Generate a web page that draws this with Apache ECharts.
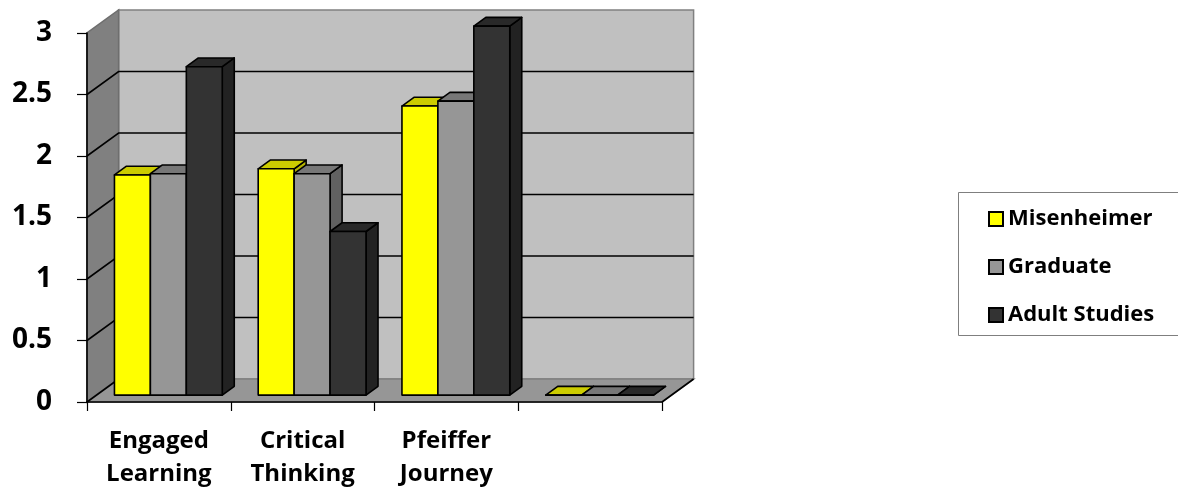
<!DOCTYPE html>
<html>
<head>
<meta charset="utf-8">
<title>Survey scores by campus</title>
<script src="https://cdn.jsdelivr.net/npm/echarts@6/dist/echarts.min.js"></script>
<style>
  html, body { margin: 0; padding: 0; background: #ffffff; }
  #chart { width: 1178px; height: 494px; }
</style>
</head>
<body>
<div id="chart"></div>
<script>
// Categories along the front axis (the fourth slot is an unlabeled empty group)
const CATEGORIES = ['Engaged\nLearning', 'Critical\nThinking', 'Pfeiffer\nJourney', ''];

// Series values
const SERIES_NAMES = ['Misenheimer', 'Graduate', 'Adult Studies'];
const MISENHEIMER = [1.79, 1.84, 2.35, 0];
const GRADUATE = [1.80, 1.80, 2.39, 0];
const ADULT_STUDIES = [2.67, 1.33, 3.00, 0];

// Value axis range and the gridlines drawn on the walls
const Y_MIN = 0;
const Y_MAX = 3;
const Y_STEP = 0.5;
const WALL_GRID_VALUES = [0.5, 1, 1.5, 2, 2.5];

// Oblique projection of the chart's depth
const DEPTH_X = 31.6;
const DEPTH_Y = -23;
const BAR_FRONT = 0.30;   // bars start this far into the depth
const BAR_DEPTH = 0.38;   // and are this deep
const BAR_FRACTION = 0.25; // each bar's share of a category band

const FACE_COLORS = [
  { front: '#ffff00', top: '#cccc00', side: '#b3b300' },
  { front: '#969696', top: '#777777', side: '#616161' },
  { front: '#333333', top: '#292929', side: '#222222' }
];

const EDGE = { stroke: '#000000', lineWidth: 1.6, lineJoin: 'round' };

function barRenderer(seriesIdx) {
  const c = FACE_COLORS[seriesIdx];
  return function (params, api) {
    const cat = api.value(0);
    const val = api.value(1);
    const band = api.size([1, 0])[0];
    const bw = band * BAR_FRACTION;
    const base = api.coord([cat, 0]);
    const topPt = api.coord([cat, val]);
    const ox = DEPTH_X * BAR_FRONT, oy = DEPTH_Y * BAR_FRONT;
    const dx = DEPTH_X * BAR_DEPTH, dy = DEPTH_Y * BAR_DEPTH;
    const x0 = base[0] - 1.5 * bw + seriesIdx * bw + ox;
    const x1 = x0 + bw;
    const yB = base[1] + oy;
    const yT = topPt[1] + oy;
    return {
      type: 'group',
      children: [
        {
          type: 'polygon',
          shape: { points: [[x1, yT], [x1 + dx, yT + dy], [x1 + dx, yB + dy], [x1, yB]] },
          style: Object.assign({ fill: c.side }, EDGE)
        },
        {
          type: 'polygon',
          shape: { points: [[x0, yT], [x1, yT], [x1 + dx, yT + dy], [x0 + dx, yT + dy]] },
          style: Object.assign({ fill: c.top }, EDGE)
        },
        {
          type: 'rect',
          shape: { x: x0, y: yT, width: bw, height: yB - yT },
          style: Object.assign({ fill: c.front }, EDGE)
        }
      ]
    };
  };
}

function wallRenderer(params, api) {
  const cs = params.coordSys;
  const L = cs.x, R = cs.x + cs.width;
  const y0 = api.coord([0, Y_MIN])[1];
  const yTop = api.coord([0, Y_MAX])[1];
  const children = [];
  // back wall
  children.push({
    type: 'polygon',
    shape: { points: [[L + DEPTH_X, yTop + DEPTH_Y], [R + DEPTH_X, yTop + DEPTH_Y], [R + DEPTH_X, y0 + DEPTH_Y], [L + DEPTH_X, y0 + DEPTH_Y]] },
    style: { fill: '#c0c0c0', stroke: '#808080', lineWidth: 1.5 }
  });
  // left side wall
  children.push({
    type: 'polygon',
    shape: { points: [[L, y0], [L, yTop], [L + DEPTH_X, yTop + DEPTH_Y], [L + DEPTH_X, y0 + DEPTH_Y]] },
    style: { fill: '#808080', stroke: '#6e6e6e', lineWidth: 1.5 }
  });
  // floor
  children.push({
    type: 'polygon',
    shape: { points: [[L, y0], [R, y0], [R + DEPTH_X, y0 + DEPTH_Y], [L + DEPTH_X, y0 + DEPTH_Y]] },
    style: { fill: '#969696', stroke: '#808080', lineWidth: 1.5 }
  });
  children.push({
    type: 'line',
    shape: { x1: R, y1: y0, x2: R + DEPTH_X, y2: y0 + DEPTH_Y },
    style: { stroke: '#000000', lineWidth: 1.6 }
  });
  children.push({
    type: 'line',
    shape: { x1: L, y1: y0, x2: L + DEPTH_X, y2: y0 + DEPTH_Y },
    style: { stroke: '#000000', lineWidth: 1.6 }
  });
  // gridlines across the side wall and back wall
  WALL_GRID_VALUES.forEach(function (v) {
    const y = api.coord([0, v])[1];
    children.push({
      type: 'polyline',
      shape: { points: [[L, y], [L + DEPTH_X, y + DEPTH_Y], [R + DEPTH_X, y + DEPTH_Y]] },
      style: { stroke: '#000000', lineWidth: 1.6, fill: null }
    });
  });
  return { type: 'group', children: children };
}

const chart = echarts.init(document.getElementById('chart'), null, { renderer: 'canvas' });

const seriesData = [MISENHEIMER, GRADUATE, ADULT_STUDIES];
const FONT = '"Open Sans", "DejaVu Sans", sans-serif';

chart.setOption({
  animation: false,
  backgroundColor: '#ffffff',
  grid: { left: 87, right: 516, top: 33, bottom: 92, containLabel: false },
  xAxis: {
    type: 'category',
    data: CATEGORIES,
    z: 5,
    axisLine: { show: true, lineStyle: { color: '#000000', width: 1.6 } },
    axisTick: { show: true, length: 9, alignWithLabel: false, lineStyle: { color: '#000000', width: 1.2 } },
    axisLabel: {
      interval: 0,
      margin: 23,
      color: '#000000',
      fontFamily: FONT,
      fontWeight: 'bold',
      fontSize: 24,
      lineHeight: 33
    },
    splitLine: { show: false }
  },
  yAxis: {
    type: 'value',
    min: Y_MIN,
    max: Y_MAX,
    interval: Y_STEP,
    z: 5,
    axisLine: { show: true, lineStyle: { color: '#000000', width: 1.6 } },
    axisTick: { show: true, length: 10, lineStyle: { color: '#000000', width: 1.2 } },
    axisLabel: {
      margin: 35,
      color: '#000000',
      fontFamily: FONT,
      fontWeight: 'bold',
      fontSize: 28
    },
    splitLine: { show: false }
  },
  legend: {
    orient: 'vertical',
    left: 983,
    top: 202,
    itemWidth: 14,
    itemHeight: 14,
    itemGap: 24,
    icon: 'rect',
    data: SERIES_NAMES.map(function (name, i) {
      return {
        name: name,
        itemStyle: { color: FACE_COLORS[i].front, borderColor: '#000000', borderWidth: 2 }
      };
    }),
    textStyle: {
      color: '#000000',
      fontFamily: FONT,
      fontWeight: 'bold',
      fontSize: 22,
      lineHeight: 24
    }
  },
  graphic: [
    {
      type: 'rect',
      shape: { x: 958.5, y: 192.5, width: 240, height: 143 },
      style: { fill: null, stroke: '#7f7f7f', lineWidth: 1 },
      silent: true,
      z: -1
    }
  ],
  series: [
    {
      type: 'custom',
      name: '__walls',
      coordinateSystem: 'cartesian2d',
      renderItem: wallRenderer,
      data: [[0, 0]],
      clip: false,
      silent: true,
      z: 1
    }
  ].concat(SERIES_NAMES.map(function (name, s) {
    return {
      type: 'custom',
      name: name,
      coordinateSystem: 'cartesian2d',
      renderItem: barRenderer(s),
      encode: { x: 0, y: 1 },
      data: seriesData[s].map(function (v, i) { return [i, v]; }),
      itemStyle: { color: FACE_COLORS[s].front },
      clip: false,
      z: 2
    };
  }))
});
</script>
</body>
</html>
